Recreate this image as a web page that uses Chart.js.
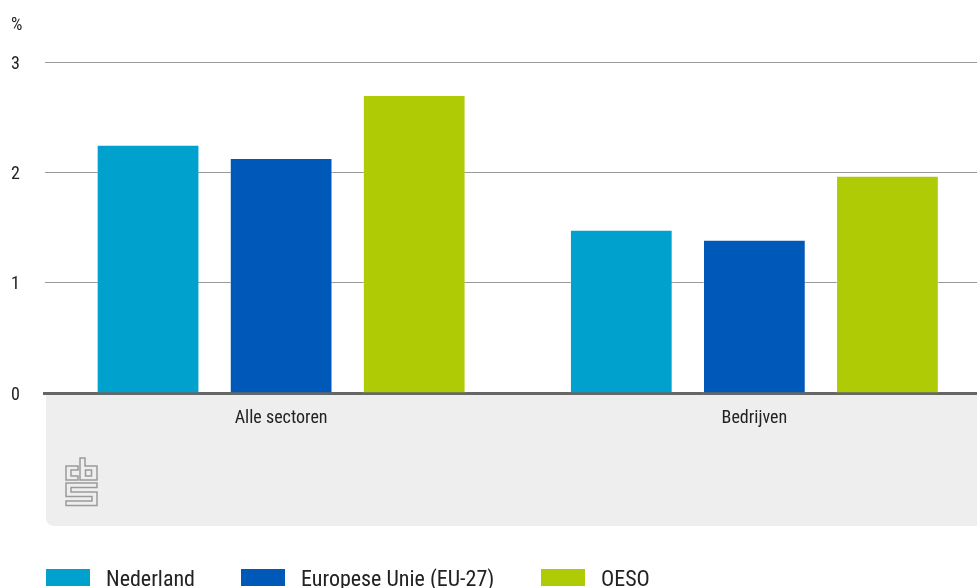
<!DOCTYPE html>
<html>
<head>
<meta charset="utf-8">
<script src="https://cdn.jsdelivr.net/npm/chart.js@4"></script>
<style>
  html, body { margin: 0; padding: 0; background: #fff; overflow: hidden; }
  #wrap { position: relative; width: 977px; height: 588px; overflow: hidden; }
  #c { position: absolute; left: 0; top: 0; }
  #legend { position: absolute; left: 0; top: 569px; height: 17px; font-family: "Liberation Sans Narrow", "Roboto Condensed", "DejaVu Sans Condensed", Roboto, sans-serif; font-size: 22px; color: #222; }
  .li { position: absolute; top: 0; display: flex; align-items: center; height: 17px; white-space: nowrap; }
  .sw { width: 44px; height: 17px; margin-right: 16px; flex: none; }
  .tx { position: relative; top: 1px; }
</style>
</head>
<body>
<div id="wrap">
  <canvas id="c" width="991" height="588"></canvas>
  <div id="legend"></div>
</div>
<script>
const categories = ["Alle sectoren", "Bedrijven"];
const seriesNames = ["Nederland", "Europese Unie (EU-27)", "OESO"];
const nederland = [2.25, 1.48];
const europeseUnie = [2.13, 1.39];
const oeso = [2.70, 1.97];
const yTicks = [0, 1, 2, 3];
const unitLabel = "%";

const colors = ["#00a1cd", "#0058b8", "#afcb05"];
const legendLeft = [46, 241, 541];
const FONT = '"Liberation Sans Narrow", "Roboto Condensed", "DejaVu Sans Condensed", Roboto, sans-serif';

const logoPlugin = {
  id: 'cbsBackground',
  beforeDraw(chart) {
    const ctx = chart.ctx;
    const a = chart.chartArea;
    const x0 = 46, y0 = a.bottom, x1 = chart.width, y1 = 526, r = 8;
    ctx.save();
    ctx.fillStyle = '#eeeeee';
    ctx.beginPath();
    ctx.moveTo(x0, y0);
    ctx.lineTo(x1, y0);
    ctx.lineTo(x1, y1);
    ctx.lineTo(x0 + r, y1);
    ctx.arcTo(x0, y1, x0, y1 - r, r);
    ctx.closePath();
    ctx.fill();
    // CBS logo outline
    const ox = 66, oy = 458;
    ctx.strokeStyle = '#9a9a9a';
    ctx.lineWidth = 1.5;
    const shapes = [
      [[0,8],[12,8],[12,12],[5,12],[5,18],[12,18],[12,22],[0,22]],
      [[14,0],[19,0],[19,8],[31,8],[31,22],[14,22]],
      [[19.5,12],[25.5,12],[25.5,18],[19.5,18]],
      [[0,25],[31,25],[31,29.5],[5,29.5],[5,34],[31,34],[31,47.5],[0,47.5],[0,43],[26,43],[26,38.5],[0,38.5]]
    ];
    shapes.forEach(s => {
      ctx.beginPath();
      s.forEach((p, i) => { const X = ox + p[0], Y = oy + p[1]; i ? ctx.lineTo(X, Y) : ctx.moveTo(X, Y); });
      ctx.closePath();
      ctx.stroke();
    });
    ctx.restore();
  }
};

const seriesData = [nederland, europeseUnie, oeso];
const chart = new Chart(document.getElementById('c'), {
  type: 'bar',
  data: {
    labels: categories,
    datasets: seriesNames.map((n, i) => ({
      label: n,
      data: seriesData[i],
      backgroundColor: colors[i],
      borderColor: 'rgba(255,255,255,0.4)',
      borderWidth: 1,
      categoryPercentage: 0.8436,
      barPercentage: 0.772
    }))
  },
  options: {
    responsive: false,
    animation: false,
    layout: { padding: { left: 11, right: 0, top: 0, bottom: 155 } },
    plugins: {
      legend: { display: false },
      tooltip: { enabled: false },
      title: {
        display: true, text: unitLabel, align: 'start', color: '#222',
        font: { family: FONT, size: 18, weight: 'normal', lineHeight: 1.2 },
        padding: { top: 15, bottom: 25.4 }
      }
    },
    scales: {
      x: {
        z: 1,
        grid: { display: false, drawTicks: false },
        border: { display: true, color: '#666666', width: 3 },
        ticks: { color: '#222', font: { family: FONT, size: 18 }, padding: 15, maxRotation: 0 },
        afterFit(s) { s.height = 40; }
      },
      y: {
        min: 0, max: 3,
        afterBuildTicks(s) { s.ticks = yTicks.map(v => ({ value: v })); },
        grid: { color: '#999999', lineWidth: 1, drawTicks: false },
        border: { display: false },
        ticks: { color: '#222', font: { family: FONT, size: 18 }, crossAlign: 'far', padding: 0, labelOffset: 2 },
        afterFit(s) { s.width = 33.5; }
      }
    }
  },
  plugins: [logoPlugin]
});

const leg = document.getElementById('legend');
chart.data.datasets.forEach((d, i) => {
  const it = document.createElement('div');
  it.className = 'li';
  it.style.left = legendLeft[i] + 'px';
  const sw = document.createElement('span');
  sw.className = 'sw';
  sw.style.background = d.backgroundColor;
  const t = document.createElement('span');
  t.className = 'tx';
  t.textContent = d.label;
  it.appendChild(sw); it.appendChild(t);
  leg.appendChild(it);
});
</script>
</body>
</html>
